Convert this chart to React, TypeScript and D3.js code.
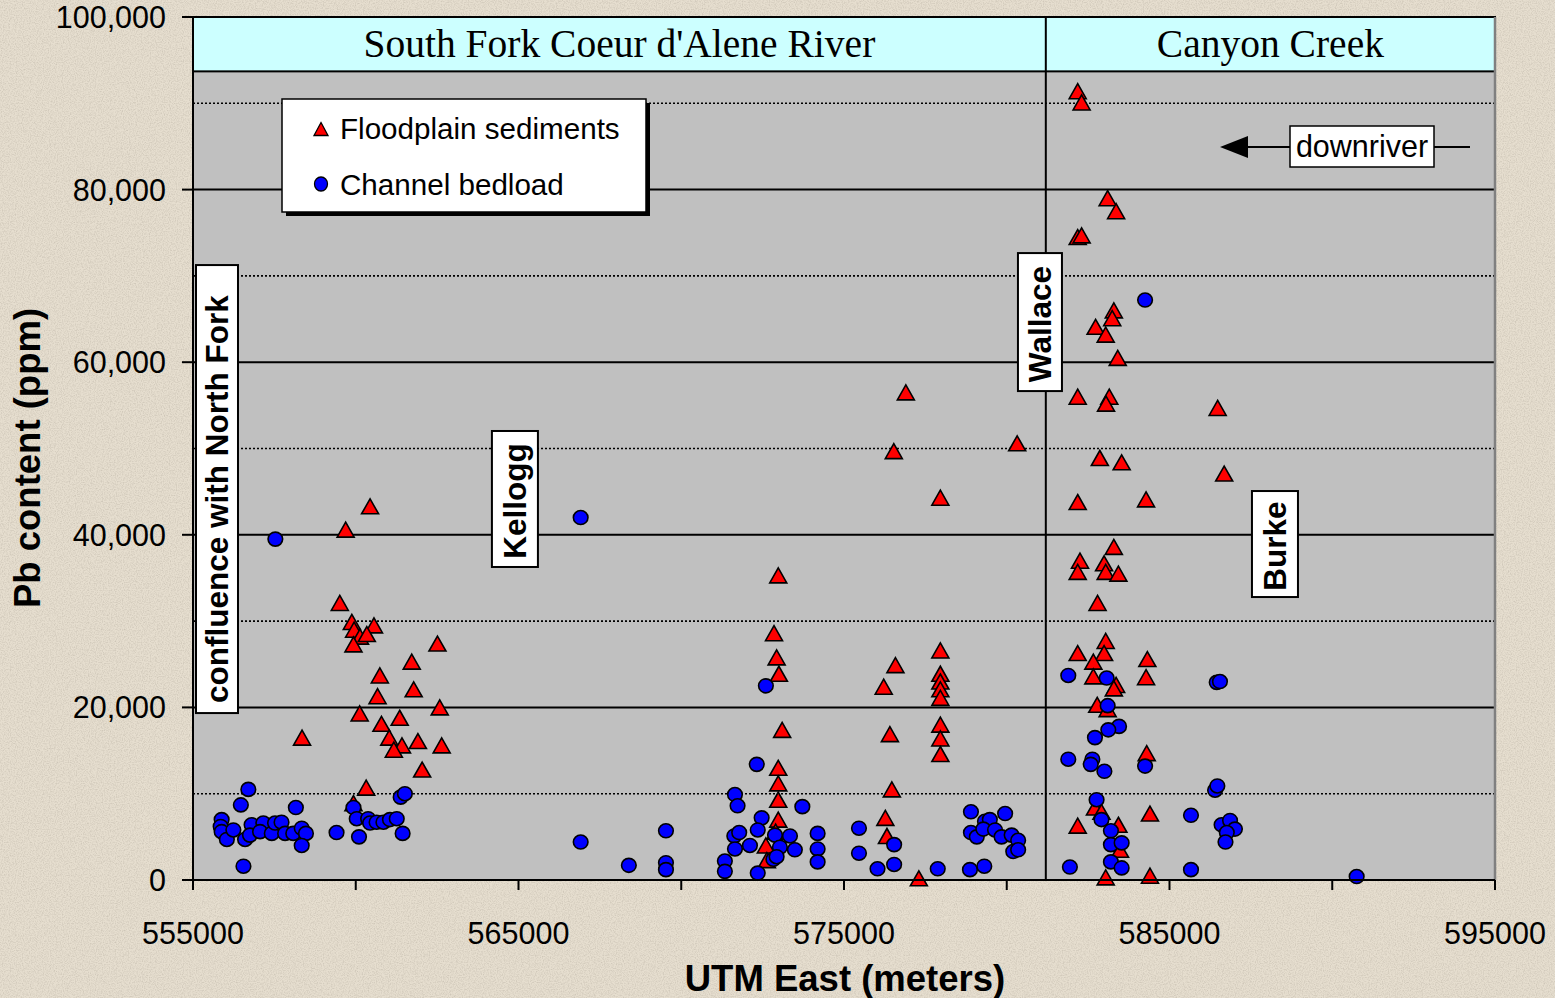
import React from "react";
import * as d3 from "d3";

// Floodplain sediments: [UTM East (m), Pb (ppm)]
const floodplain: [number, number][] = [
  [560440, 43300], [559690, 40600], [559510, 32100], [559880, 29900], [560560, 29500],
  [559950, 29000], [560130, 28200], [560340, 28500], [559930, 27300], [562510, 27400],
  [561720, 25300], [560740, 23700], [561780, 22100], [560670, 21300], [562580, 20000],
  [560120, 19300], [561350, 18800], [560790, 18100], [561030, 16500], [561420, 15600],
  [561170, 15100], [561910, 16100], [562640, 15600], [562040, 12800], [558350, 16500],
  [560320, 10700], [559930, 8900],
  [572980, 35300], [572850, 28600], [572930, 25800], [573000, 23900], [573100, 17400],
  [572980, 13000], [572980, 11200], [572980, 9300], [572980, 7000], [572600, 4000],
  [572630, 2300], [572900, 5600],
  [576900, 56500], [576530, 49700], [580320, 50600], [577960, 44300], [576580, 24900],
  [576220, 22400], [576410, 16900], [576470, 10500], [576270, 7200], [576320, 5100],
  [577300, 200],
  [577960, 26600], [577960, 23900], [577960, 23000], [577960, 22100], [577960, 21100],
  [577960, 18000], [577960, 16400], [577960, 14600],
  [582180, 91400], [582300, 90100], [583100, 79000], [583360, 77500], [582180, 74500],
  [582300, 74700], [583290, 66000], [583240, 65100], [582730, 64100], [583040, 63200],
  [583410, 60500], [582180, 56000], [583150, 56000], [583050, 55200], [586480, 54700],
  [582860, 48900], [583530, 48400], [586680, 47100], [582180, 43800], [584280, 44100],
  [583290, 38600], [582250, 37000], [582180, 35700], [582990, 36700], [583040, 35700],
  [583430, 35500], [582790, 32100], [583040, 27700], [582180, 26300], [582990, 26300],
  [582660, 25300], [584320, 25600], [582660, 23600], [584280, 23500], [583360, 22600],
  [583290, 22200], [582780, 20300], [583100, 19800], [584300, 14700], [582710, 8400],
  [582910, 7900], [584400, 7700], [582180, 6300], [583430, 6400], [583480, 3500],
  [583040, 300], [584400, 500],
];

// Channel bedload: [UTM East (m), Pb (ppm)]
const bedload: [number, number][] = [
  [556700, 10500], [556470, 8700], [558160, 8400], [555880, 7000], [555850, 6200],
  [555880, 5600], [556040, 4700], [556240, 5800], [556600, 4700], [556800, 6400],
  [556750, 5200], [557160, 6600], [557060, 5600], [557420, 5400], [557520, 6600],
  [557720, 6700], [557830, 5400], [558080, 5400], [558340, 6000], [558470, 5400],
  [558340, 4000], [556550, 1600], [557530, 39500],
  [559410, 5500], [559930, 8400], [560030, 7100], [560380, 7100], [560440, 6600],
  [560640, 6700], [560850, 6700], [561050, 7000], [561260, 7100], [560100, 5000],
  [561440, 5400], [561380, 9600], [561510, 10000],
  [566910, 42000], [566910, 4400], [568390, 1700], [569530, 5700], [569530, 2000],
  [569530, 1200],
  [572600, 22500], [572320, 13400], [571650, 9900], [571730, 8600], [571340, 2200],
  [571340, 1000], [572470, 7200], [572350, 5800], [571630, 5100], [571780, 5500],
  [571650, 3600], [572110, 4000], [572350, 800], [572830, 2400], [573720, 8500],
  [572880, 5200], [573340, 5100], [573030, 3800], [573490, 3500], [572930, 2700],
  [574190, 5400], [574190, 3600], [574190, 2100],
  [575460, 6000], [575460, 3100], [576540, 4100], [576540, 1800], [576030, 1300],
  [577880, 1300],
  [578900, 7900], [579950, 7700], [579330, 6800], [579480, 7000], [578900, 5500],
  [579080, 5000], [579280, 5900], [579640, 5800], [579840, 5000], [580150, 5200],
  [580350, 4600], [580200, 3300], [580350, 3500], [578870, 1200], [579310, 1600],
  [584250, 67200], [581890, 23700], [583070, 23400], [583100, 20200], [583450, 17800],
  [583120, 17400], [582710, 16500], [581890, 14000], [582630, 14000], [582580, 13400],
  [583000, 12600], [584250, 13200], [582760, 9300], [582910, 7000], [583200, 5700],
  [583200, 4100], [583530, 4300], [581940, 1500], [583200, 2100], [583530, 1400],
  [585660, 7500], [585660, 1200], [586450, 22900], [586550, 23000], [586400, 10400],
  [586470, 10900], [586600, 6400], [586860, 6900], [587010, 5900], [586760, 5500],
  [586720, 4400], [590750, 400],
];

const yTicks = [0, 20000, 40000, 60000, 80000, 100000];
const gridSolid = [20000, 40000, 60000, 80000];
const gridDotted = [10000, 30000, 50000, 70000, 90000];
const xTickLabels = [555000, 565000, 575000, 585000, 595000];
const xAllTicks = [555000, 560000, 565000, 570000, 575000, 580000, 585000, 590000, 595000];
const regions = [
  { name: "South Fork Coeur d'Alene River", from: 555000, to: 581200 },
  { name: "Canyon Creek", from: 581200, to: 595000 },
];
const bandBottom = 93700;
const towns = [
  { label: "confluence with North Fork", x: 555737, y: 45300, w: 42, h: 448, shift: 10 },
  { label: "Kellogg", x: 564890, y: 44150, w: 46, h: 136, shift: 2 },
  { label: "Wallace", x: 581020, y: 64650, w: 44, h: 138, shift: 2 },
  { label: "Burke", x: 588240, y: 38930, w: 46, h: 106, shift: 2 },
];

const W = 1555;
const H = 998;
const SANS = "'Liberation Sans', Arial, Helvetica, sans-serif";
const SERIF = "'Liberation Serif', 'Times New Roman', serif";

const tri = "M0,-7.5L8.5,7.5L-8.5,7.5Z";
const triSmall = "M0,-6.5L7,6.5L-7,6.5Z";

export default function App() {
  const x = d3.scaleLinear().domain([555000, 595000]).range([193, 1495]);
  const y = d3.scaleLinear().domain([0, 100000]).range([880, 17]);
  const fmt = d3.format(",");
  const [x0, x1] = x.range();
  const [yb, yt] = y.range();

  return (
    <svg
      width={W}
      height={H}
      style={{ position: "absolute", left: 0, top: 0, display: "block" }}
    >
      <defs>
        <filter id="paper" x="0" y="0" width="100%" height="100%">
          <feTurbulence type="fractalNoise" baseFrequency="0.85" numOctaves="2" seed="3" result="noise" />
          <feColorMatrix
            in="noise"
            type="matrix"
            values="0 0 0 0 0.55  0 0 0 0 0.5  0 0 0 0 0.42  1.4 0 0 0 -0.55"
          />
        </filter>
      </defs>
      <rect x={0} y={0} width={W} height={H} fill="#e6decf" />
      <rect x={0} y={0} width={W} height={H} fill="#fff" filter="url(#paper)" />

      {/* plot area */}
      <rect x={x0} y={yt} width={x1 - x0} height={yb - yt} fill="#c0c0c0" />

      {gridDotted.map((v) => (
        <line key={"gd" + v} x1={x0} x2={x1} y1={y(v)} y2={y(v)} stroke="#000" strokeWidth={1.6} strokeDasharray="2,2" />
      ))}
      {gridSolid.map((v) => (
        <line key={"gs" + v} x1={x0} x2={x1} y1={y(v)} y2={y(v)} stroke="#000" strokeWidth={2} />
      ))}

      {/* header band */}
      <rect x={x0} y={yt} width={x1 - x0} height={y(bandBottom) - yt} fill="#ccffff" stroke="#000" strokeWidth={2} />
      {regions.map((r) => (
        <text
          key={r.name}
          x={(x(r.from) + x(r.to)) / 2}
          y={(yt + y(bandBottom)) / 2 + 13}
          textAnchor="middle"
          fontFamily={SERIF}
          fontSize={39.5}
          fill="#000"
        >
          {r.name}
        </text>
      ))}
      <line x1={x(regions[1].from)} x2={x(regions[1].from)} y1={yt} y2={yb} stroke="#000" strokeWidth={2} />
      <line x1={x1} x2={x1} y1={yt} y2={yb} stroke="#808080" strokeWidth={2.5} />

      {/* town labels */}
      {towns.map((t) => (
        <g key={t.label} transform={`translate(${x(t.x)},${y(t.y)})`}>
          <rect x={-t.w / 2} y={-t.h / 2} width={t.w} height={t.h} fill="#fff" stroke="#000" strokeWidth={2} />
          <text
            transform="rotate(-90)"
            x={-t.shift}
            y={11}
            textAnchor="middle"
            fontFamily={SANS}
            fontWeight="bold"
            fontSize={31.5}
            fill="#000"
          >
            {t.label}
          </text>
        </g>
      ))}

      {/* downriver arrow */}
      <line x1={1240} x2={1470} y1={147} y2={147} stroke="#000" strokeWidth={2} />
      <path d="M1220,147L1248,136L1248,158Z" fill="#000" />
      <rect x={1290} y={126} width={144} height={41} fill="#fff" stroke="#000" strokeWidth={1.5} />
      <text x={1362} y={157} textAnchor="middle" fontFamily={SANS} fontSize={30.5} fill="#000">
        downriver
      </text>

      {/* floodplain triangles */}
      {floodplain.map((d, i) => (
        <path
          key={"f" + i}
          d={tri}
          transform={`translate(${x(d[0])},${y(d[1])})`}
          fill="#ff0000"
          stroke="#000"
          strokeWidth={1.6}
        />
      ))}
      {/* bedload circles */}
      {bedload.map((d, i) => (
        <ellipse
          key={"b" + i}
          cx={x(d[0])}
          cy={y(d[1])}
          rx={7.3}
          ry={7}
          fill="#0000ff"
          stroke="#000"
          strokeWidth={1.6}
        />
      ))}

      {/* legend */}
      <rect x={286} y={103} width={364} height={113} fill="#000" />
      <rect x={282} y={99} width={364} height={113} fill="#fff" stroke="#000" strokeWidth={1.5} />
      <path d={triSmall} transform="translate(321,129)" fill="#ff0000" stroke="#000" strokeWidth={1.3} />
      <text x={340} y={139} fontFamily={SANS} fontSize={29.6} fill="#000">
        Floodplain sediments
      </text>
      <ellipse cx={321} cy={184} rx={6.5} ry={7} fill="#0000ff" stroke="#000" strokeWidth={1.3} />
      <text x={340} y={195} fontFamily={SANS} fontSize={29.6} fill="#000">
        Channel bedload
      </text>

      {/* axes */}
      <line x1={x0} x2={x0} y1={yt} y2={yb} stroke="#000" strokeWidth={2} />
      <line x1={x0} x2={x1} y1={yb} y2={yb} stroke="#000" strokeWidth={2} />
      {yTicks.map((v) => (
        <g key={"yt" + v}>
          <line x1={x0 - 11} x2={x0} y1={y(v)} y2={y(v)} stroke="#000" strokeWidth={2} />
          <text x={166} y={y(v) + 11} textAnchor="end" fontFamily={SANS} fontSize={30.5} fill="#000">
            {fmt(v)}
          </text>
        </g>
      ))}
      {xAllTicks.map((v) => (
        <line key={"xt" + v} x1={x(v)} x2={x(v)} y1={yb} y2={yb + 10} stroke="#000" strokeWidth={2} />
      ))}
      {xTickLabels.map((v) => (
        <text key={"xl" + v} x={x(v)} y={944} textAnchor="middle" fontFamily={SANS} fontSize={30.5} fill="#000">
          {String(v)}
        </text>
      ))}
      <text x={845} y={991} textAnchor="middle" fontFamily={SANS} fontWeight="bold" fontSize={36.5} fill="#000">
        UTM East (meters)
      </text>
      <text
        transform="translate(40,458) rotate(-90)"
        textAnchor="middle"
        fontFamily={SANS}
        fontWeight="bold"
        fontSize={36.5}
        fill="#000"
      >
        Pb content (ppm)
      </text>
    </svg>
  );
}
